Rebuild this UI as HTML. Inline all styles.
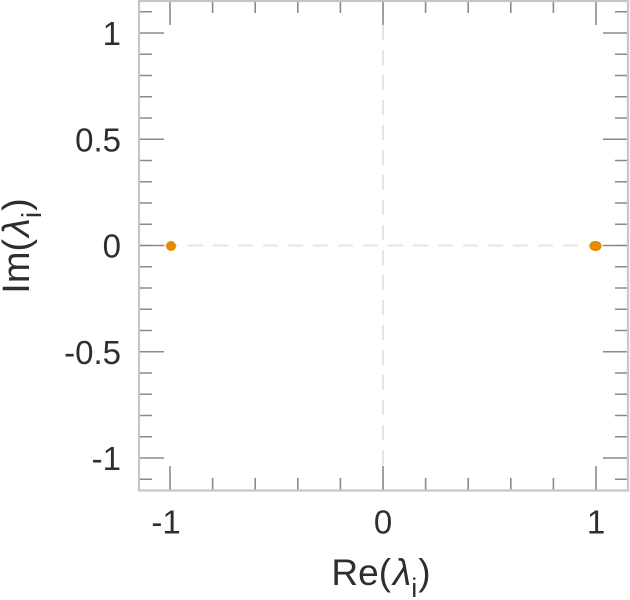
<!DOCTYPE html>
<html>
<head>
<meta charset="utf-8">
<style>
html,body{margin:0;padding:0;background:#fff;}
svg{display:block;}
text{font-family:"Liberation Sans",Arial,sans-serif;fill:#2e2e2e;}
</style>
</head>
<body>
<svg width="630" height="600" viewBox="0 0 630 600" xmlns="http://www.w3.org/2000/svg">
<rect x="0" y="0" width="630" height="600" fill="#fff"/>
<line x1="138" y1="245.5" x2="628" y2="245.5" stroke="#e4e4e4" stroke-width="2" stroke-dasharray="15 10"/>
<line x1="383" y1="0" x2="383" y2="490" stroke="#e4e4e4" stroke-width="2" stroke-dasharray="15 10"/>
<g stroke="#8a8a8a" stroke-width="1.6">
<path d="M170 490V466M383 490V466M596 490V466M170 1V25M383 1V25M596 1V25"/>
<path d="M212.6 490V478M255.2 490V478M297.8 490V478M340.4 490V478M425.6 490V478M468.2 490V478M510.8 490V478M553.4 490V478"/>
<path d="M212.6 1V13M255.2 1V13M297.8 1V13M340.4 1V13M425.6 1V13M468.2 1V13M510.8 1V13M553.4 1V13"/>
<path d="M139 33H164M139 139.25H164M139 245.5H164M139 351.75H164M139 458H164"/>
<path d="M628 33H603M628 139.25H603M628 245.5H603M628 351.75H603M628 458H603"/>
<path d="M139 11.75H152M139 54.25H152M139 75.5H152M139 96.75H152M139 118H152M139 160.5H152M139 181.75H152M139 203H152M139 224.25H152M139 266.75H152M139 288H152M139 309.25H152M139 330.5H152M139 373H152M139 394.25H152M139 415.5H152M139 436.75H152M139 479.25H152"/>
<path d="M628 11.75H615M628 54.25H615M628 75.5H615M628 96.75H615M628 118H615M628 160.5H615M628 181.75H615M628 203H615M628 224.25H615M628 266.75H615M628 288H615M628 309.25H615M628 330.5H615M628 373H615M628 394.25H615M628 415.5H615M628 436.75H615M628 479.25H615"/>
</g>
<rect x="139" y="1" width="489" height="489.5" fill="none" stroke="#c6c6c6" stroke-width="2.2"/>
<circle cx="171" cy="246" r="5" fill="#e68a00"/>
<circle cx="594.5" cy="246" r="5" fill="#e68a00"/>
<circle cx="596.5" cy="246" r="5" fill="#e68a00"/>
<g font-size="33" text-anchor="end">
<text x="121" y="45">1</text>
<text x="121" y="151.25">0.5</text>
<text x="121" y="257.5">0</text>
<text x="121" y="363.75">-0.5</text>
<text x="121" y="470">-1</text>
</g>
<g font-size="33" text-anchor="middle">
<text x="166" y="533.5">-1</text>
<text x="383" y="533.5">0</text>
<text x="596" y="533.5">1</text>
</g>
<text x="381" y="585" font-size="37" text-anchor="middle">Re(<tspan dx="2" font-style="italic">λ</tspan><tspan font-size="27" dy="12">i</tspan><tspan dy="-12" dx="1">)</tspan></text>
<text transform="translate(29,246) rotate(-90)" font-size="38" text-anchor="middle">Im(<tspan dx="2" font-style="italic">λ</tspan><tspan font-size="28" dy="12">i</tspan><tspan dy="-12" dx="1">)</tspan></text>
</svg>
</body>
</html>
